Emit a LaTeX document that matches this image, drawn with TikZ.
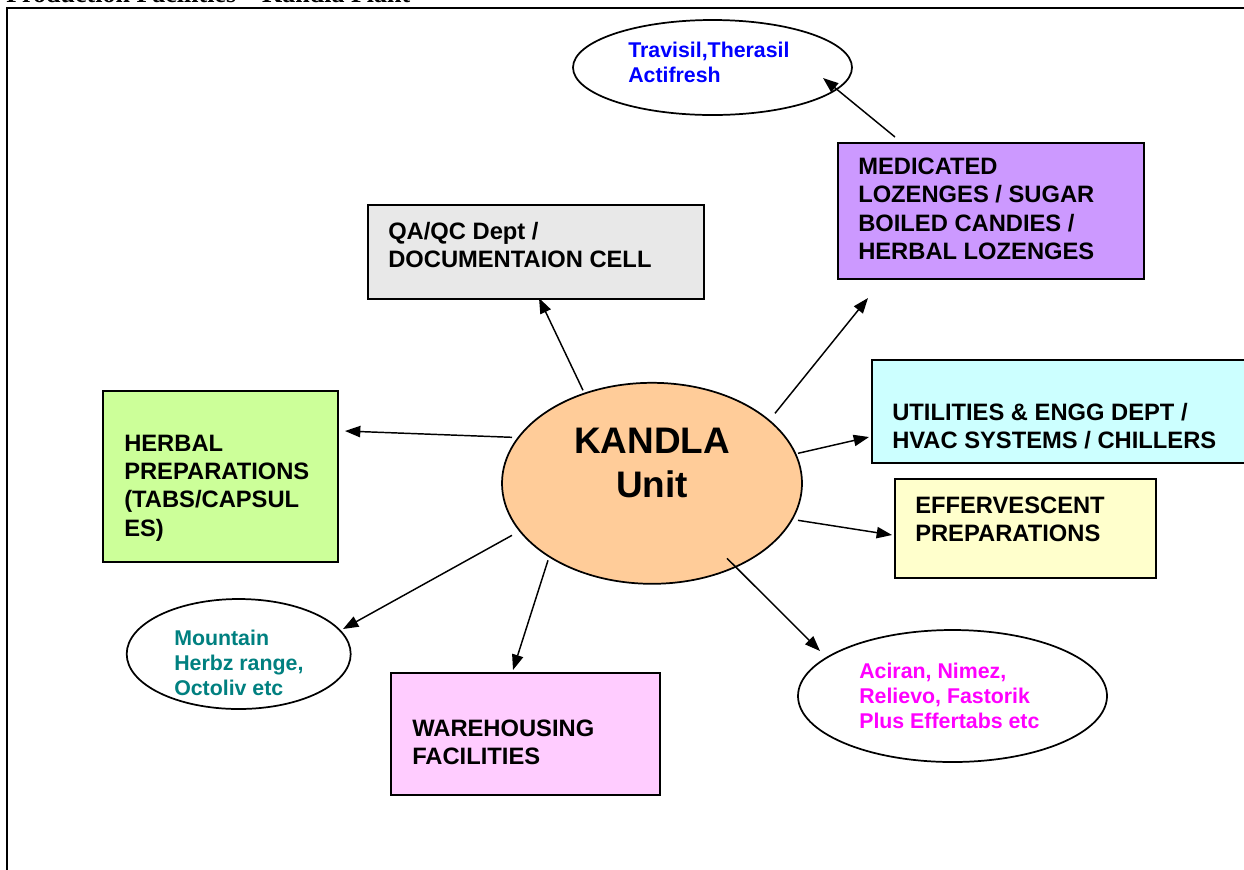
\documentclass[tikz,border=0pt]{standalone}
\usepackage{fontspec}
\setmainfont{Liberation Sans}
\newfontfamily\titlefont{Liberation Serif}
\usetikzlibrary{arrows.meta,calc,shapes.geometric}
\definecolor{medfill}{HTML}{CC99FF}
\definecolor{qafill}{HTML}{E8E8E8}
\definecolor{herbfill}{HTML}{CCFF99}
\definecolor{utilfill}{HTML}{CCFFFF}
\definecolor{efffill}{HTML}{FFFFCC}
\definecolor{warefill}{HTML}{FFCCFF}
\definecolor{kandfill}{HTML}{FFCC99}
\definecolor{tealtext}{HTML}{008080}
\definecolor{magtext}{HTML}{FF00FF}
\definecolor{bluetext}{HTML}{0000FF}
\begin{document}
\begin{tikzpicture}[x=0.75pt,y=-0.75pt,
  boxshape/.style={draw=black, line width=1.5pt, rectangle, inner sep=0pt, anchor=north west},
  ovalshape/.style={draw=black, line width=1.3pt, ellipse, inner sep=0pt, fill=white},
  bigtext/.style={anchor=north west, inner sep=0pt, align=left, font=\bfseries\fontsize{17.8}{21.1}\selectfont},
  smalltext/.style={anchor=north west, inner sep=0pt, align=left, font=\bfseries\fontsize{16}{18.6}\selectfont},
  link/.style={draw=black, line width=1.1pt, -{Triangle[length=11.5pt,width=8.5pt]}}]
\useasboundingbox (0,0) rectangle (1244,869);

% title (cut off at the top) and frame
\node[anchor=base west, inner sep=0pt, font=\titlefont\bfseries\fontsize{19.5}{22}\selectfont] (title) at (6,2.5) {Production Facilities – Kandla Plant};
\draw[line width=1.6pt] (7,900) -- (7,8) -- (1260,8);

% boxes
\node[boxshape, fill=medfill, minimum width=229.5pt, minimum height=102pt] (med) at (837,142) {};
\node[boxshape, fill=qafill, minimum width=252pt, minimum height=70.5pt] (qa) at (367,204) {};
\node[boxshape, fill=herbfill, minimum width=176.25pt, minimum height=128.25pt] (herb) at (102,390) {};
\node[boxshape, fill=warefill, minimum width=201.75pt, minimum height=91.5pt] (ware) at (390,672) {};
\node[boxshape, fill=utilfill, minimum width=287.25pt, minimum height=77.25pt] (util) at (871,359) {};
\node[boxshape, fill=efffill, minimum width=195.75pt, minimum height=74.25pt] (eff) at (894,478) {};

% ellipses
\node[ovalshape, minimum width=209.25pt, minimum height=71.25pt] (trav) at (712.5,67.5) {};
\node[ovalshape, fill=kandfill, minimum width=225pt, minimum height=150.75pt] (kandla) at (652,483.3) {};
\node[ovalshape, minimum width=168pt, minimum height=82.5pt] (mount) at (238.7,654) {};
\node[ovalshape, minimum width=231.75pt, minimum height=99pt] (aci) at (952.5,696) {};

% texts
\node[smalltext, text=bluetext] (travtext) at (628,42) {Travisil,Therasil\\Actifresh};
\node[bigtext] (medtext) at (858,158) {MEDICATED\\LOZENGES / SUGAR\\BOILED CANDIES /\\HERBAL LOZENGES};
\node[bigtext] (qatext) at (388,222) {QA/QC Dept /\\DOCUMENTAION CELL};
\node[bigtext] (herbtext) at (124,435) {HERBAL\\PREPARATIONS\\(TABS/CAPSUL\\ES)};
\node[bigtext] (utiltext) at (892,403) {UTILITIES \& ENGG DEPT /\\HVAC SYSTEMS / CHILLERS};
\node[bigtext] (efftext) at (915,497) {EFFERVESCENT\\PREPARATIONS};
\node[bigtext] (waretext) at (412,720) {WAREHOUSING\\FACILITIES};
\node[smalltext, text=tealtext] (mounttext) at (174,630) {Mountain\\Herbz range,\\Octoliv etc};
\node[smalltext, text=magtext] (acitext) at (859,663) {Aciran, Nimez,\\Relievo, Fastorik\\Plus Effertabs etc};
\node[inner sep=0pt, align=center, font=\bfseries\fontsize{27.7}{33.4}\selectfont] (kandtext) at (652,463) {KANDLA\\Unit};

% connectors
\draw[link] ($(kandla.center)+(-69,-93)$) -- ($(qa.south)+(3,-2)$);
\draw[link] ($(kandla.center)+(123,-70)$) -- ($(med.south west)+(31,18)$);
\draw[link] ($(med.north west)+(58,-5)$) -- ($(trav.center)+(110.5,10.5)$);
\draw[link] ($(kandla.center)+(-140,-46)$) -- ($(herb.north east)+(6,41)$);
\draw[link] ($(kandla.center)+(-140,52)$) -- ($(mount.center)+(104.3,-25)$);
\draw[link] ($(kandla.center)+(-104,77)$) -- ($(ware.north west)+(123,-2)$);
\draw[link] ($(kandla.center)+(146,-30)$) -- ($(util.north west)+(-2,78)$);
\draw[link] ($(kandla.center)+(146,37)$) -- ($(eff.north west)+(-2,57)$);
\draw[link] ($(kandla.center)+(75,75)$) -- ($(aci.center)+(-132.5,-45)$);
\end{tikzpicture}
\end{document}
